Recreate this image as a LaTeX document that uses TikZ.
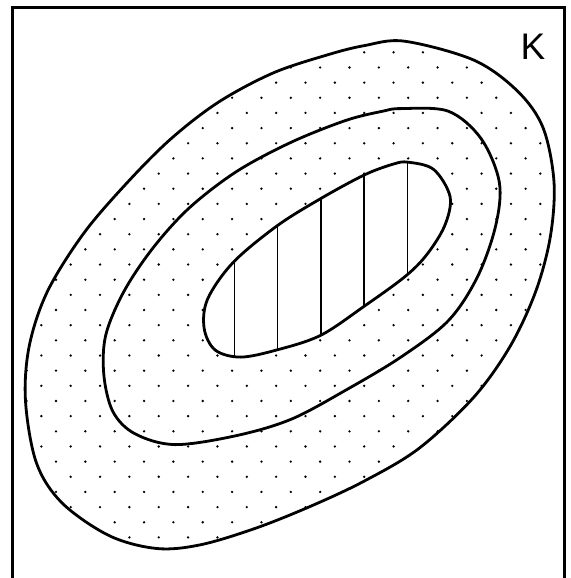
\documentclass[tikz,border=0pt]{standalone}
\usepackage{fontspec}
\setmainfont{Liberation Sans}
\begin{document}
\begin{tikzpicture}[x=1pt,y=-1pt,
  curve/.style={line width=2.8pt,line join=round},
  frameline/.style={line width=3pt},
  hatchline/.style={line width=1.4pt},
  dotmark/.style={fill=black}]
\useasboundingbox (0,0) rectangle (570,578);
\def\outerpath{plot[smooth cycle,tension=0.55] coordinates{(404.5,41.2) (473.8,60.1) (517.5,91.1) (543,127.6) (554,182) (550.3,236.9) (535.7,291.5) (510.2,346.2) (473.8,397.2) (419.1,448.3) (364.4,481) (309.8,506.6) (255.1,528.4) (200.4,544.8) (156.7,548.5) (109.3,535.7) (62,502.9) (36.4,462.8) (25.5,400.9) (29.2,346.2) (47.4,291.5) (83.8,233.2) (127.6,182.2) (171.3,138.5) (218.7,102) (273.3,72.9) (328,54.7) (364.4,45.6)}}
\def\middlepath{plot[smooth cycle,tension=0.55] coordinates{(400.9,108.6) (448.3,111.2) (481,138.5) (499.3,182.2) (495.6,226) (477.4,277) (448.3,320.7) (400.9,357.1) (346.2,389.9) (291.5,419.1) (236.9,435.5) (174.9,444.6) (134.8,433.7) (113,411.8) (103.9,375.4) (105.7,335.3) (123.9,291.5) (153.1,247.8) (189.5,207.7) (236.9,171.3) (291.5,142.1) (346.2,120.3) (382.7,111.2)}}
\def\innerpath{plot[smooth cycle,tension=0.55] coordinates{(408.2,162.2) (433.7,169.5) (450.1,196.8) (444.6,225.9) (426.4,255.1) (404.5,277) (364.4,306.1) (320.7,335.3) (277,349.9) (240.5,357.1) (215,349.9) (204.1,328) (207.7,298.8) (233.2,262.4) (277,225.9) (320.7,198.6) (364.4,174.9) (393.6,164)}}
% dots
\begin{scope}
  \clip \outerpath;
  \foreach \j in {-1,...,36}{
    \pgfmathsetmacro{\yy}{52.3+15.16*\j}
    \pgfmathsetmacro{\xo}{mod(\j+40,2)==0 ? 12.0 : -2.7}
    \foreach \k in {0,...,19}{
      \fill[dotmark] (\xo+29.35*\k,\yy) circle (1.3pt);
    }
  }
\end{scope}
% inner white + hatch
\fill[white] \innerpath;
\begin{scope}
  \clip \innerpath;
  \foreach \xx in {234.5,277.7,321,364,407.5}{
    \draw[hatchline] (\xx,140) -- (\xx,380);
  }
\end{scope}
% curves
\draw[curve] \outerpath;
\draw[curve] \middlepath;
\draw[curve] \innerpath;
% frame
\draw[frameline] (12,578) -- (12,7.5) -- (564,7.5) -- (564,578);
\node[font=\fontsize{37}{40}\selectfont,inner sep=0pt] (K) at (533,47) {K};
\end{tikzpicture}
\end{document}
